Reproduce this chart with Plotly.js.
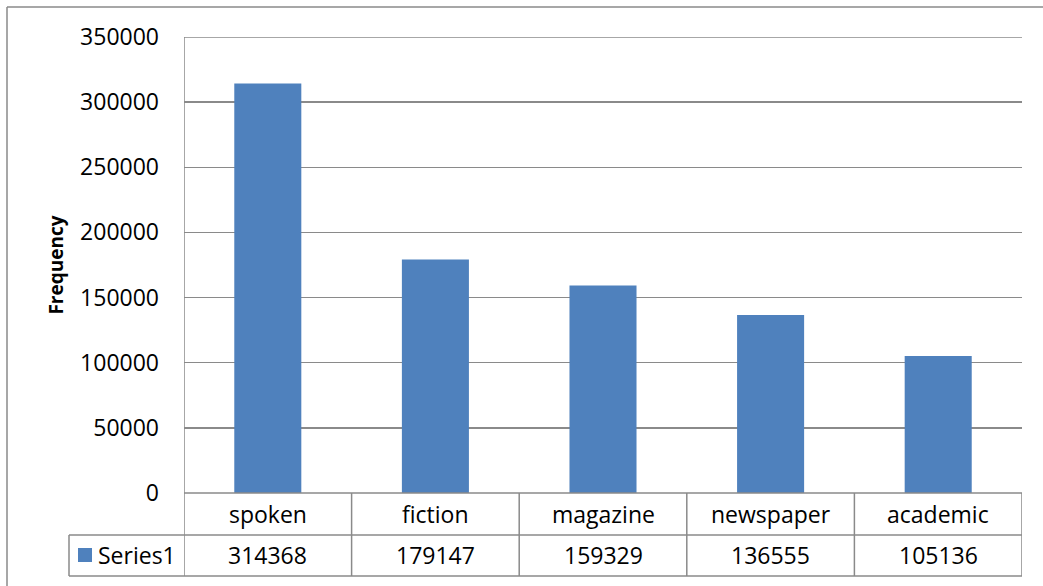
<!DOCTYPE html>
<html><head><meta charset="utf-8">
<script src="https://cdn.plot.ly/plotly-3.0.1.min.js"></script>
<style>html,body{margin:0;padding:0;background:#fff}#c{width:1043px;height:586px}</style>
</head><body><div id="c"></div>
<script>
const categories = ["spoken","fiction","magazine","newspaper","academic"];
const values = [314368,179147,159329,136555,105136];
const seriesName = "Series1";
const yTicks = [0,50000,100000,150000,200000,250000,300000,350000];

const W=1043,H=586,L=184,R=1022,T=37,B=493;
const px = x => (x-L)/(R-L);
const py = y => (B-y)/(B-T);
const lineCol = "#8a8a8a";
const barCol = "#4F81BD";
const font = {family:"Open Sans, sans-serif", size:23, color:"#000"};

const shapes = [];
// outer chart border
shapes.push({type:"line",xref:"paper",yref:"paper",x0:px(7),x1:px(7),y0:py(7),y1:py(590),line:{color:lineCol,width:1.5}});
shapes.push({type:"line",xref:"paper",yref:"paper",x0:px(7),x1:px(1045),y0:py(7),y1:py(7),line:{color:lineCol,width:1.5}});
// top gridline at axis max
shapes.push({type:"line",xref:"paper",yref:"y",x0:0,x1:1,y0:yTicks[yTicks.length-1],y1:yTicks[yTicks.length-1],line:{color:lineCol,width:1.5}});
// data table horizontal lines
shapes.push({type:"line",xref:"paper",yref:"paper",x0:px(L),x1:px(R),y0:py(B),y1:py(B),line:{color:lineCol,width:1.5}});
shapes.push({type:"line",xref:"paper",yref:"paper",x0:px(69),x1:px(R),y0:py(535),y1:py(535),line:{color:lineCol,width:1.5}});
shapes.push({type:"line",xref:"paper",yref:"paper",x0:px(69),x1:px(R),y0:py(576),y1:py(576),line:{color:lineCol,width:1.5}});
// table vertical lines at category boundaries
for(let i=0;i<=categories.length;i++){
  shapes.push({type:"line",xref:"x",yref:"paper",x0:i-0.5,x1:i-0.5,y0:py(i===0?T:B),y1:py(576),line:{color:lineCol,width:1.5}});
}
shapes.push({type:"line",xref:"paper",yref:"paper",x0:px(69),x1:px(69),y0:py(535),y1:py(576),line:{color:lineCol,width:1.5}});
// legend key
shapes.push({type:"rect",xref:"paper",yref:"paper",x0:px(78),x1:px(92),y0:py(548),y1:py(562),fillcolor:barCol,line:{width:0}});

const annotations = [];
categories.forEach((c,i)=>{
  annotations.push({xref:"x",yref:"paper",x:i,y:py(514),text:c,showarrow:false,font:font,xanchor:"center",yanchor:"middle"});
  annotations.push({xref:"x",yref:"paper",x:i,y:py(555),text:String(values[i]),showarrow:false,font:font,xanchor:"center",yanchor:"middle"});
});
annotations.push({xref:"paper",yref:"paper",x:px(96),y:py(555),text:seriesName,showarrow:false,font:font,xanchor:"left",yanchor:"middle"});

const data = [{type:"bar",x:categories.map((c,i)=>i),y:values,marker:{color:barCol},name:seriesName,hoverinfo:"none"}];

const layout = {
  width:W,height:H,
  margin:{l:L,r:W-R,t:T,b:H-B,pad:0},
  paper_bgcolor:"#fff",plot_bgcolor:"#fff",
  showlegend:false,
  bargap:0.6,
  font:font,
  xaxis:{range:[-0.5,categories.length-0.5],showticklabels:false,ticks:"",showgrid:false,zeroline:false,showline:false,fixedrange:true},
  yaxis:{range:[0,350000],tickvals:yTicks,ticktext:yTicks.map(String),showgrid:true,gridcolor:lineCol,gridwidth:1.5,
         zeroline:false,showline:false,ticks:"",ticklabelstandoff:24,tickfont:font,
         title:{text:"<b>Frequency</b>",font:{family:"Open Sans, sans-serif",size:19,color:"#000"},standoff:11}},
  shapes:shapes,
  annotations:annotations
};
Plotly.newPlot("c",data,layout,{staticPlot:true,displayModeBar:false});
</script></body></html>
